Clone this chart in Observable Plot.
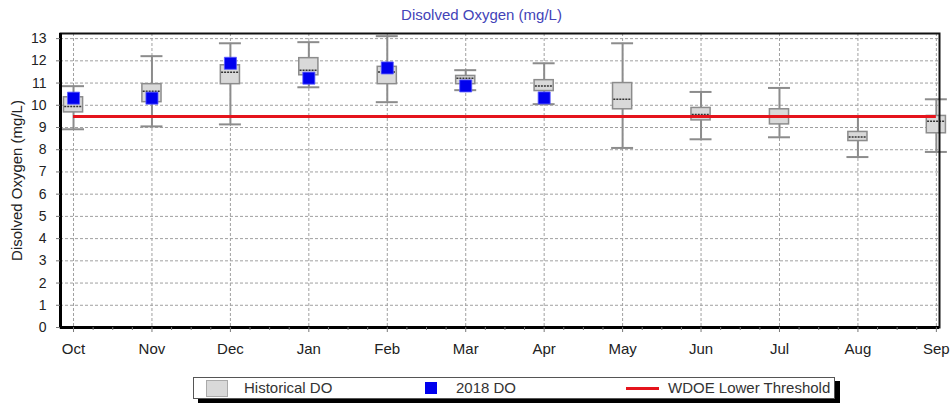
<!DOCTYPE html>
<html><head><meta charset="utf-8">
<script src="https://cdn.jsdelivr.net/npm/d3@7"></script>
<script src="https://cdn.jsdelivr.net/npm/@observablehq/plot@0.6"></script>
<style>
body{margin:0;background:#fff;font-family:"Liberation Sans",Arial,sans-serif;}
#wrap{position:relative;width:952px;height:405px;overflow:hidden;}
#title{position:absolute;left:0;width:963px;top:6px;text-align:center;font-size:15px;line-height:18px;color:#4343b8;}
#legend{position:absolute;left:193px;top:377px;width:640px;height:20px;border:1px solid #555;background:#fff;box-shadow:5px 4px 0 #000;font-size:15px;color:#333;}
#legend .t{position:absolute;top:0;line-height:20px;white-space:nowrap;}
#legend .sw{position:absolute;}
</style>
</head><body>
<div id="wrap">
  <div id="chart"></div>
  <div id="title">Disolved Oxygen (mg/L)</div>
  <div id="legend">
    <div class="sw" style="left:12px;top:2px;width:20px;height:15px;background:#d9d9d9;border:1px solid #aaa;"></div>
    <div class="t" style="left:50px;">Historical DO</div>
    <div class="sw" style="left:231px;top:4px;width:12px;height:12px;background:#0000ee;"></div>
    <div class="t" style="left:262px;">2018 DO</div>
    <div class="sw" style="left:432px;top:9px;width:33px;height:3px;background:#e5141c;"></div>
    <div class="t" style="left:474px;">WDOE Lower Threshold</div>
  </div>
</div>
<script>
const months = ["Oct","Nov","Dec","Jan","Feb","Mar","Apr","May","Jun","Jul","Aug","Sep"];
const histMin    = [8.92, 9.05, 9.14, 10.81, 10.14, 10.68, 10.05, 8.08, 8.47, 8.56, 7.67, 7.90];
const histQ1     = [9.68, 10.14, 10.95, 11.35, 10.95, 10.95, 10.64, 9.82, 9.32, 9.14, 8.39, 8.74];
const histMedian = [9.95, 10.63, 11.49, 11.58, 11.50, 11.22, 10.87, 10.27, 9.59, 9.47, 8.57, 9.28];
const histQ3     = [10.36, 10.95, 11.80, 12.12, 11.73, 11.32, 11.13, 11.00, 9.88, 9.82, 8.80, 9.52];
const histMax    = [10.86, 12.21, 12.79, 12.84, 13.11, 11.58, 11.89, 12.79, 10.60, 10.78, 9.50, 10.27];
const do2018     = [10.32, 10.32, 11.89, 11.22, 11.68, 10.87, 10.33, null, null, null, null, null];
const threshold  = 9.5;
const yTicks = [0,1,2,3,4,5,6,7,8,9,10,11,12,13];

const data = months.map((m, i) => ({i, month: m, lo: histMin[i], q1: histQ1[i], med: histMedian[i], q3: histQ3[i], hi: histMax[i], do18: do2018[i]}));
const obs = data.filter(d => d.do18 != null);
const monthIdx = data.map(d => d.i);
const minor = [];
for (const i of monthIdx.slice(0, -1)) minor.push(i + 0.25, i + 0.5, i + 0.75);

const xDom = [-0.166, 11.04];
const yDom = [0, 13.23];
const bw = 0.122, cw = 0.14;
const gray = "#8c8c8c";
const gridStyle = {stroke: "#a0a0a0", strokeOpacity: 1, strokeDasharray: "3,2", strokeWidth: 1};

const plot = Plot.plot({
  width: 952, height: 405,
  marginLeft: 60, marginRight: 13, marginTop: 33, marginBottom: 78,
  style: {fontFamily: "'Liberation Sans', Arial, sans-serif", fontSize: "14px", color: "#222", background: "transparent"},
  x: {domain: xDom, axis: null},
  y: {domain: yDom, axis: null},
  marks: [
    Plot.gridY({ticks: yTicks.slice(1), ...gridStyle}),
    Plot.gridX({ticks: monthIdx, ...gridStyle}),
    Plot.ruleX(data, {x: "i", y1: "lo", y2: "hi", stroke: gray, strokeWidth: 2}),
    Plot.ruleY(data, {y: "hi", x1: d => d.i - cw, x2: d => d.i + cw, stroke: gray, strokeWidth: 2}),
    Plot.ruleY(data, {y: "lo", x1: d => d.i - cw, x2: d => d.i + cw, stroke: gray, strokeWidth: 2}),
    Plot.rect(data, {x1: d => d.i - bw, x2: d => d.i + bw, y1: "q1", y2: "q3", fill: "#d9d9d9", stroke: gray, strokeWidth: 1.5}),
    Plot.ruleY(data, {y: "med", x1: d => d.i - bw + 0.01, x2: d => d.i + bw - 0.01, stroke: "#333", strokeWidth: 1.5, strokeDasharray: "2,1"}),
    Plot.ruleY([threshold], {x1: monthIdx[0], x2: monthIdx[monthIdx.length - 1], stroke: "#e5141c", strokeWidth: 3}),
    Plot.dot(obs, {x: "i", y: "do18", symbol: "square", r: 6.8, fill: "#0000ee", stroke: "#5a5aff", strokeWidth: 0.8}),
    Plot.frame({stroke: "#111", strokeWidth: 2}),
    Plot.ruleX([xDom[0]], {stroke: "#000", strokeWidth: 3}),
    Plot.ruleY([yDom[0]], {stroke: "#000", strokeWidth: 3}),
    Plot.axisX({ticks: monthIdx, tickFormat: i => months[i], tickSize: 5, tickPadding: 11, fontSize: 15, stroke: "#777", label: null}),
    Plot.axisX({ticks: minor, tickFormat: () => "", tickSize: 3, stroke: "#777", label: null}),
    Plot.axisY({ticks: yTicks, tickSize: 4, tickPadding: 10, fontSize: 14, label: null, stroke: "#777"}),
    Plot.text(["Disolved Oxygen (mg/L)"], {frameAnchor: "left", textAnchor: "middle", dx: -43, rotate: -90, fontSize: 15, fill: "#222"})
  ]
});
document.getElementById("chart").append(plot);
</script>
</body></html>
